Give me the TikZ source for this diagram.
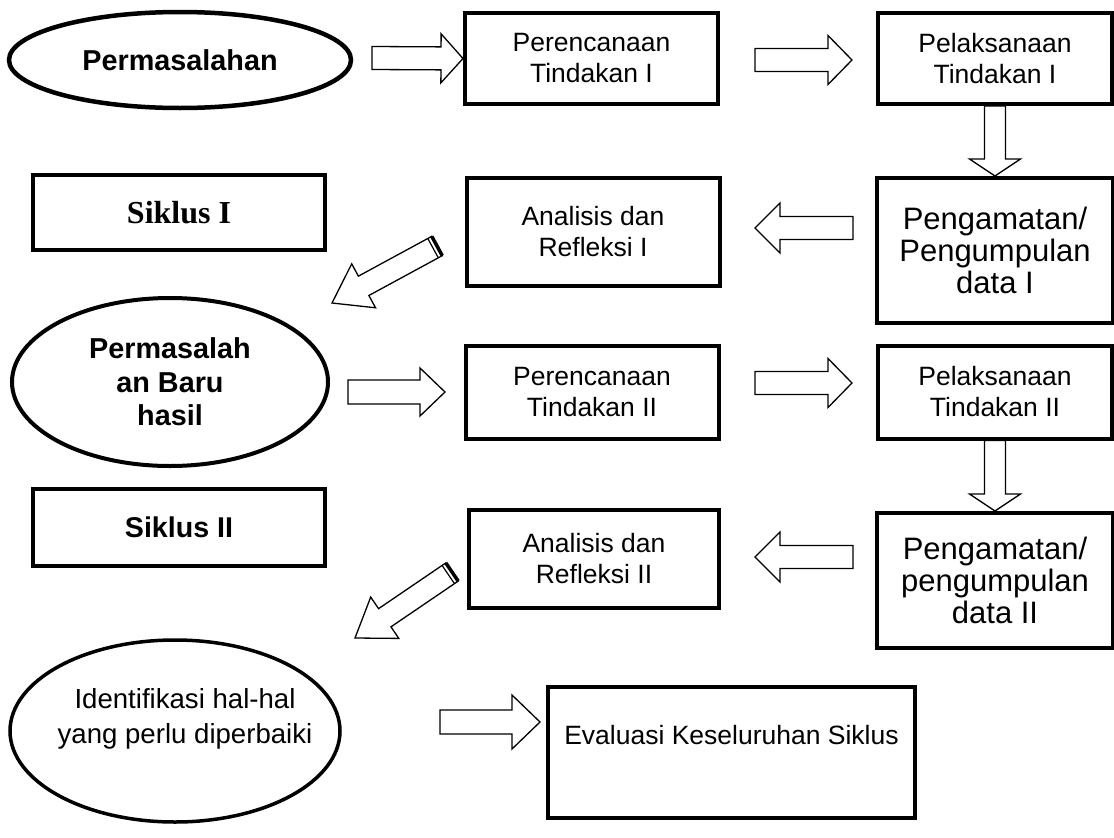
\documentclass[tikz,border=0pt]{standalone}
\usepackage{fontspec}
\setmainfont{Liberation Sans}
\newfontfamily\serifbold{Liberation Serif}
\usetikzlibrary{calc,shapes.geometric}
\tikzset{
  box/.style={draw=black, line width=4pt, fill=white, rectangle, inner sep=0pt, align=center,
              font=\fontsize{26.5}{31}\selectfont},
  bigtext/.style={font=\fontsize{31}{32}\selectfont},
  oval/.style={draw=black, line width=4pt, ellipse, inner sep=0pt, align=center,
              font=\fontsize{28.2}{35}\selectfont},
  barrow/.style={draw=black, line width=1.3pt, fill=white, line join=miter},
}
\newcommand{\blockarr}[6]{%
  \coordinate (#1-h) at ($(#3)!#6!(#2)$);
  \draw[barrow] ($(#2)!#4!90:(#3)$) -- ($(#1-h)!#4!90:(#3)$) -- ($(#1-h)!#5!90:(#3)$)
    -- (#3) -- ($(#1-h)!#5!-90:(#3)$) -- ($(#1-h)!#4!-90:(#3)$) -- ($(#2)!#4!-90:(#3)$) -- cycle;
}
\newcommand{\tailbar}[4]{%
  \coordinate (#1-t) at ($(#2)!4.5pt!(#3)$);
  \draw[line width=3.5pt] ($(#2)!#4!90:(#3)$) -- ($(#2)!#4!-90:(#3)$);
  \draw[line width=1.2pt] ($(#1-t)!#4!90:(#3)$) -- ($(#1-t)!#4!-90:(#3)$);
}
\begin{document}
\begin{tikzpicture}[x=1pt,y=-1pt]
\useasboundingbox (0,0) rectangle (1114,838);
% row 1
\node[oval, line width=4.5pt, minimum width=342pt, minimum height=96pt, font=\bfseries\fontsize{28.8}{34}\selectfont] (e1) at (180,60) {Permasalahan};
\node[box, minimum width=253pt, minimum height=91pt] (perI) at (591.5,58.5) {Perencanaan\\Tindakan I};
\node[box, minimum width=234pt, minimum height=91pt] (pelI) at (995,58.5) {Pelaksanaan\\Tindakan I};
% row 2
\node[box, minimum width=292pt, minimum height=75pt, font=\serifbold\bfseries\fontsize{32}{36}\selectfont] (sikI) at (179,212.5) {Siklus I};
\node[box, minimum width=253pt, minimum height=108pt] (anaI) at (593,232) {Analisis dan\\Refleksi I};
\node[box, bigtext, minimum width=236pt, minimum height=145pt] (pgmI) at (995,250.5) {Pengamatan/\\Pengumpulan\\data I};
% row 3
\node[oval, minimum width=316pt, minimum height=168pt, font=\bfseries\fontsize{28.8}{33.5}\selectfont] (e2) at (170,382) {Permasalah\\an Baru\\hasil};
\node[box, minimum width=253pt, minimum height=93pt] (perII) at (592,392) {Perencanaan\\Tindakan II};
\node[box, minimum width=234pt, minimum height=93pt] (pelII) at (995,392) {Pelaksanaan\\Tindakan II};
% row 4
\node[box, minimum width=292pt, minimum height=77pt, font=\bfseries\fontsize{28.6}{33}\selectfont] (sikII) at (179,527) {Siklus II};
\node[box, minimum width=250pt, minimum height=98pt] (anaII) at (594,559) {Analisis dan\\Refleksi II};
\node[box, bigtext, minimum width=236pt, minimum height=135pt] (pgmII) at (995,580.5) {Pengamatan/\\pengumpulan\\data II};
% row 5
\node[oval, line width=3.5pt, minimum width=330pt, minimum height=182pt,
      label={[align=center, font=\fontsize{27.6}{35}\selectfont, xshift=10pt, yshift=-2pt]center:{Identifikasi hal-hal\\yang perlu diperbaiki\\\mbox{}}}] (e3) at (175,731) {};
\node[box, minimum width=367pt, minimum height=131pt] (eval) at (731.5,752.5) {Evaluasi Keseluruhan Siklus\\[4pt]\mbox{}};
% arrow end points
\coordinate (a1s) at (372,58);
\coordinate (a2s) at (755,60);   \coordinate (a2e) at (852,60);
\coordinate (a4s) at (853,228);  \coordinate (a4e) at (755,228);
\coordinate (a5s) at (437,246);  \coordinate (a5e) at (332,303);
\coordinate (a6s) at (348,392);  \coordinate (a6e) at (445,392);
\coordinate (a7s) at (755,383);  \coordinate (a7e) at (852,383);
\coordinate (a9s) at (853,557);  \coordinate (a9e) at (755,557);
\coordinate (a10s) at (452,572); \coordinate (a10e) at (355,638);
\coordinate (a11s) at (440,722); \coordinate (a11e) at (540,722);
% arrows
\blockarr{a1}{a1s}{perI.west}{11.5pt}{24.5pt}{22pt}
\blockarr{a2}{a2s}{a2e}{11.5pt}{24.5pt}{24pt}
\blockarr{a3}{pelI.south}{pgmI.north}{10.5pt}{25.5pt}{17pt}
\blockarr{a4}{a4s}{a4e}{11.5pt}{25pt}{25pt}
\blockarr{a5}{a5s}{a5e}{11pt}{25pt}{36pt}
\tailbar{a5}{a5s}{a5e}{11pt}
\blockarr{a6}{a6s}{a6e}{12pt}{24pt}{25pt}
\blockarr{a7}{a7s}{a7e}{11.5pt}{24.5pt}{24pt}
\blockarr{a8}{pelII.south}{pgmII.north}{10.5pt}{25.5pt}{17pt}
\blockarr{a9}{a9s}{a9e}{11.5pt}{25pt}{25pt}
\blockarr{a10}{a10s}{a10e}{11pt}{25pt}{36pt}
\tailbar{a10}{a10s}{a10e}{11pt}
\blockarr{a11}{a11s}{a11e}{12pt}{27pt}{28pt}
\end{tikzpicture}
\end{document}
